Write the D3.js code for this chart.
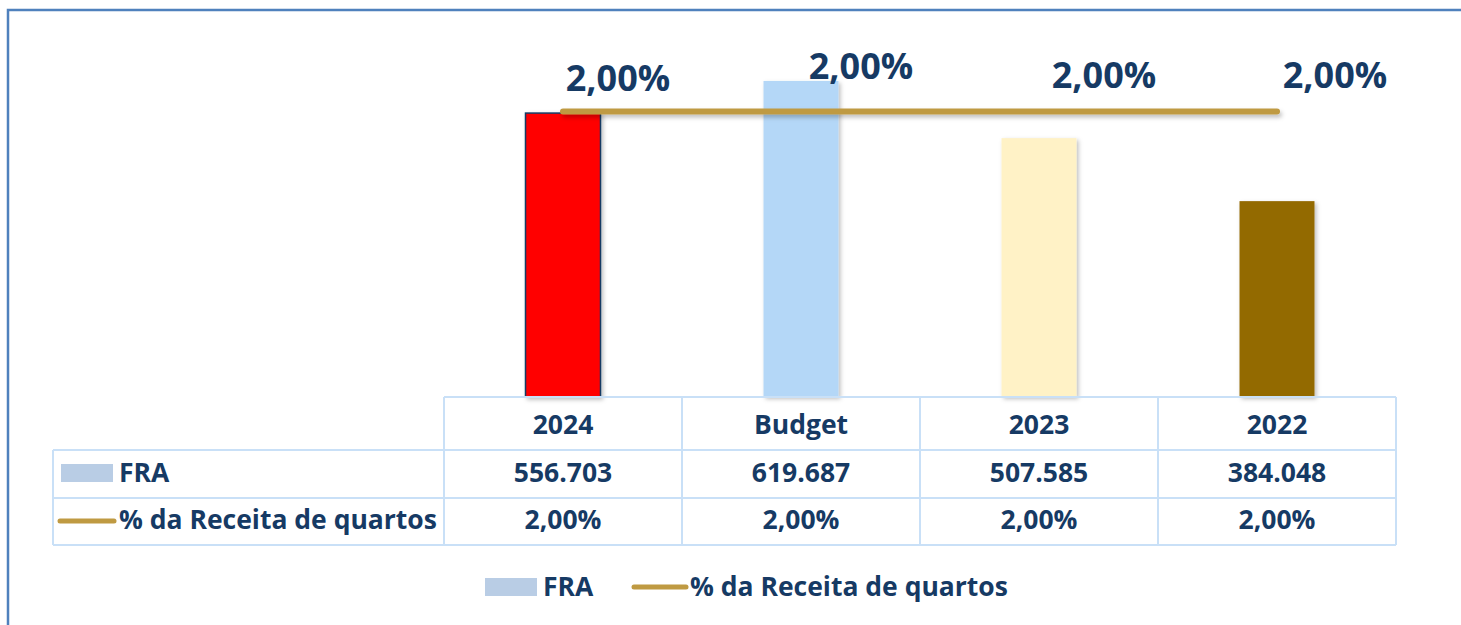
<!DOCTYPE html>
<html>
<head>
<meta charset="utf-8">
<script src="https://cdn.jsdelivr.net/npm/d3@7"></script>
<style>
  html, body { margin: 0; padding: 0; background: #fff; }
  svg { display: block; }
</style>
</head>
<body>
<div id="chart"></div>
<script>
// chart data
const categories = ['2024', 'Budget', '2023', '2022'];
const fraValues = [556703, 619687, 507585, 384048];
const pctValues = [0.02, 0.02, 0.02, 0.02];
const barColors = ['#FF0000', '#B4D7F7', '#FFF2C6', '#936A00'];
const seriesNames = ['FRA', '% da Receita de quartos'];
// label nudges (Excel-style manual placement)
const labelDx = [55, 60, 65, 58];
const labelDy = [-20, -32, -23, -23];

const W = 1461, H = 625;
const navy = '#163A64';
const gold = '#BF9A42';
const grid = '#C9E0F7';
const font = '"Open Sans", "Noto Sans", sans-serif';
const tblSize = 26.5;

const svg = d3.select('#chart').append('svg')
  .attr('width', W)
  .attr('height', H);

let defs = svg.append('defs');
defs.append('filter')
  .attr('id', 'shadow')
  .attr('x', -0.2).attr('y', -0.2).attr('width', 1.4).attr('height', 1.4)
  .append('feDropShadow')
    .attr('dx', 2).attr('dy', 2)
    .attr('stdDeviation', 2)
    .attr('flood-color', '#000')
    .attr('flood-opacity', 0.25);
// horizontal line has a zero-height bbox, so use user space for its filter
defs.append('filter')
  .attr('id', 'lineshadow')
  .attr('filterUnits', 'userSpaceOnUse')
  .attr('x', 0).attr('y', 0).attr('width', W).attr('height', H)
  .append('feDropShadow')
    .attr('dx', 2).attr('dy', 3)
    .attr('stdDeviation', 2)
    .attr('flood-color', '#000')
    .attr('flood-opacity', 0.25);

// outer frame (only top and left visible)
svg.append('path')
  .attr('d', `M8,${H} L8,10 L${W},10`)
  .attr('fill', 'none')
  .attr('stroke', '#4F81BD')
  .attr('stroke-width', 2.5);

// scales
const x = d3.scaleBand()
  .domain(categories)
  .range([444, 1396])
  .padding(0);
const y = d3.scaleLinear()
  .domain([0, 700000])
  .range([397, 40]);
const y2 = d3.scaleLinear()
  .domain([0, 0.025])
  .range([397, 40]);
const barW = x.bandwidth() * 0.315;

// bars
svg.selectAll('.bar')
  .data(fraValues)
  .enter()
  .append('rect')
    .classed('bar', true)
    .attr('x', (d, i) => x(categories[i]) + (x.bandwidth() - barW) / 2)
    .attr('y', d => y(d))
    .attr('width', barW)
    .attr('height', d => y(0) - y(d))
    .attr('fill', (d, i) => barColors[i])
    .attr('stroke', (d, i) => i === 0 ? navy : 'none')
    .attr('stroke-width', 1.5)
    .attr('filter', 'url(#shadow)');

// percentage line
const line = d3.line()
  .x((d, i) => x(categories[i]) + x.bandwidth() / 2)
  .y(d => y2(d));
svg.append('path')
  .datum(pctValues)
  .attr('d', line)
  .attr('fill', 'none')
  .attr('stroke', gold)
  .attr('stroke-width', 6)
  .attr('stroke-linecap', 'round')
  .attr('filter', 'url(#lineshadow)');

const fmtPct = v => d3.format('.2f')(v * 100).replace('.', ',') + '%';
const fmtNum = v => d3.format(',')(v).replace(/,/g, '.');

svg.selectAll('.plabel')
  .data(pctValues)
  .enter()
  .append('text')
    .classed('plabel', true)
    .attr('x', (d, i) => x(categories[i]) + x.bandwidth() / 2 + labelDx[i])
    .attr('y', (d, i) => y2(d) + labelDy[i])
    .attr('text-anchor', 'middle')
    .attr('font-family', font)
    .attr('font-weight', 700)
    .attr('font-size', 36)
    .attr('fill', navy)
    .text(d => fmtPct(d));

// data table
const tbl = svg.append('g');
const rowY = [397, 450, 498, 545];
const leftX = 53;
const x0 = x.range()[0], x1 = x.range()[1];

// horizontal rules
tbl.append('line').attr('x1', x0).attr('x2', x1).attr('y1', rowY[0]).attr('y2', rowY[0]);
for (let r = 1; r < rowY.length; r++) {
  tbl.append('line').attr('x1', leftX).attr('x2', x1).attr('y1', rowY[r]).attr('y2', rowY[r]);
}
// vertical rules
tbl.append('line').attr('x1', leftX).attr('x2', leftX).attr('y1', rowY[1]).attr('y2', rowY[3]);
categories.concat(['_end']).forEach((c, i) => {
  let xx = i < categories.length ? x(c) : x1;
  tbl.append('line').attr('x1', xx).attr('x2', xx).attr('y1', rowY[0]).attr('y2', rowY[3]);
});
tbl.selectAll('line')
  .attr('stroke', grid)
  .attr('stroke-width', 2);

const cellText = (g, tx, ty, s, anchor) => g.append('text')
  .attr('x', tx)
  .attr('y', ty)
  .attr('text-anchor', anchor || 'middle')
  .attr('font-family', font)
  .attr('font-weight', 700)
  .attr('font-size', tblSize)
  .attr('fill', navy)
  .text(s);

const rowText = [
  categories,
  fraValues.map(fmtNum),
  pctValues.map(fmtPct)
];
rowText.forEach((row, r) => {
  row.forEach((s, i) => {
    cellText(tbl, x(categories[i]) + x.bandwidth() / 2, rowY[r + 1] - 16, s);
  });
});

// row headers with legend keys
tbl.append('rect')
  .attr('x', 61).attr('y', 464)
  .attr('width', 52).attr('height', 18)
  .attr('fill', '#B9CDE5');
cellText(tbl, 119, rowY[2] - 16, seriesNames[0], 'start');
tbl.append('line')
  .attr('x1', 60).attr('x2', 114)
  .attr('y1', 521).attr('y2', 521)
  .attr('stroke', gold)
  .attr('stroke-width', 5)
  .attr('stroke-linecap', 'round');
cellText(tbl, 119, rowY[3] - 16, seriesNames[1], 'start');

// bottom legend
const leg = svg.append('g');
leg.append('rect')
  .attr('x', 485).attr('y', 578)
  .attr('width', 52).attr('height', 18)
  .attr('fill', '#B9CDE5');
cellText(leg, 543, 596, seriesNames[0], 'start');
leg.append('line')
  .attr('x1', 634).attr('x2', 686)
  .attr('y1', 587).attr('y2', 587)
  .attr('stroke', gold)
  .attr('stroke-width', 5)
  .attr('stroke-linecap', 'round');
cellText(leg, 690, 596, seriesNames[1], 'start');
</script>
</body>
</html>
